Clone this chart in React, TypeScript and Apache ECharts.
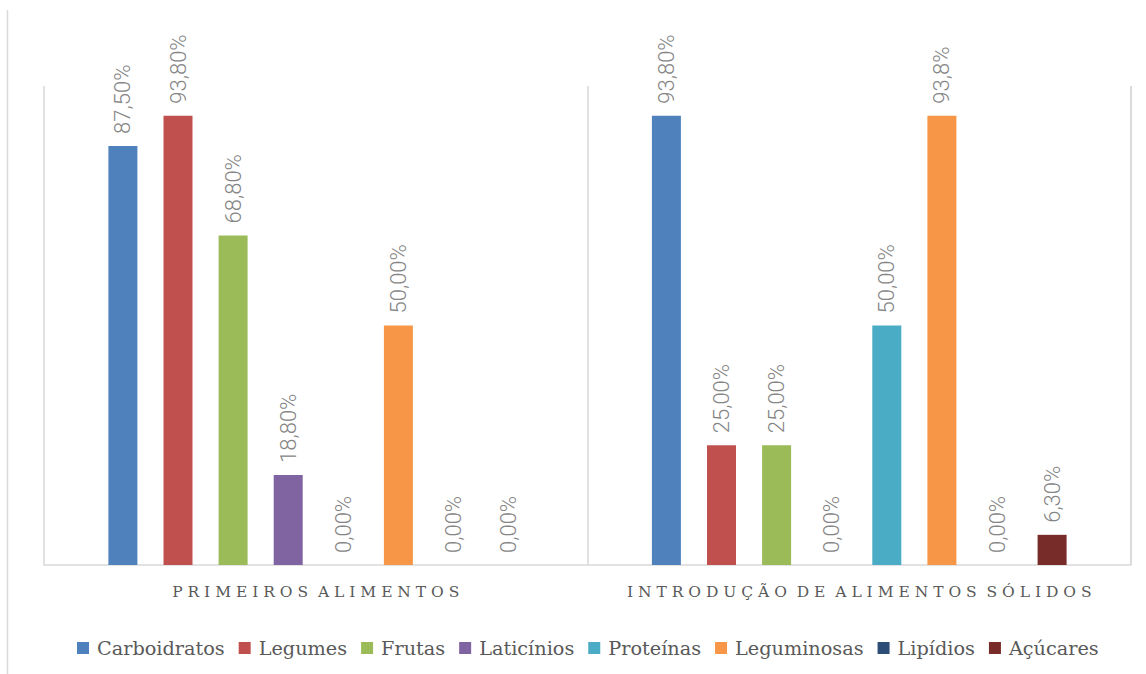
import React, { useEffect, useRef } from "react";
import * as echarts from "echarts";

const categories = [
  "P R I M E I R O S  A L I M E N T O S",
  "I N T R O D U Ç Ã O  D E  A L I M E N T O S  S Ó L I D O S",
];
const seriesNames = [
  "Carboidratos",
  "Legumes",
  "Frutas",
  "Laticínios",
  "Proteínas",
  "Leguminosas",
  "Lipídios",
  "Açúcares",
];
const primeirosValues = [87.5, 93.8, 68.8, 18.8, 0, 50, 0, 0];
const introducaoValues = [93.8, 25, 25, 0, 50, 93.8, 0, 6.3];
const primeirosLabels = ["87,50%", "93,80%", "68,80%", "18,80%", "0,00%", "50,00%", "0,00%", "0,00%"];
const introducaoLabels = ["93,80%", "25,00%", "25,00%", "0,00%", "50,00%", "93,8%", "0,00%", "6,30%"];
const colors = ["#4F81BD", "#C0504D", "#9BBB59", "#8064A2", "#4BACC6", "#F79646", "#2C4D75", "#772C2A"];

export default function App() {
  const ref = useRef<HTMLDivElement>(null);
  useEffect(() => {
    if (!ref.current) return;
    const chart = echarts.init(ref.current, null, { renderer: "svg" });
    const labelSets = [primeirosLabels, introducaoLabels];
    const series = seriesNames.map((name, i) => ({
      name,
      type: "bar",
      data: [primeirosValues[i], introducaoValues[i]],
      barWidth: 29,
      barGap: "90%",
      itemStyle: { color: colors[i] },
      label: {
        show: true,
        position: "top",
        rotate: 90,
        align: "left",
        verticalAlign: "middle",
        distance: 12,
        fontFamily: "Roboto",
        fontSize: 22,
        fontWeight: 300,
        color: "#858585",
        formatter: (p: any) => labelSets[p.dataIndex][i],
      },
    }));
    chart.setOption({
      animation: false,
      color: colors,
      grid: { left: 44, right: 15, top: 86, bottom: 109, containLabel: false },
      xAxis: {
        type: "category",
        data: categories,
        axisLine: { show: true, lineStyle: { color: "#d9d9d9", width: 1.5 } },
        axisTick: { show: false },
        splitLine: { show: true, interval: 0, lineStyle: { color: "#d9d9d9", width: 1.5 } },
        axisLabel: {
          interval: 0,
          hideOverlap: false,
          margin: 19,
          fontFamily: "DejaVu Serif",
          fontSize: 15.5,
          color: "#595959",
        },
      },
      yAxis: {
        type: "value",
        min: 0,
        max: 100,
        show: false,
        splitLine: { show: false },
      },
      legend: {
        top: 631,
        left: 72,
        itemWidth: 12,
        itemHeight: 12,
        itemGap: 14,
        icon: "rect",
        textStyle: {
          fontFamily: "DejaVu Serif",
          fontSize: 19.25,
          color: "#595959",
          lineHeight: 24,
          padding: [0, 0, 0, 3],
        },
      },
      graphic: [
        {
          type: "line",
          shape: { x1: 7.5, y1: 10, x2: 7.5, y2: 674 },
          style: { stroke: "#d9d9d9", lineWidth: 1.5 },
        },
        {
          type: "line",
          shape: { x1: 1131, y1: 86, x2: 1131, y2: 565 },
          style: { stroke: "#d9d9d9", lineWidth: 1.5 },
        },
      ],
      series,
    });
    return () => chart.dispose();
  }, []);
  return (
    <div
      ref={ref}
      style={{ position: "absolute", left: 0, top: 0, width: 1146, height: 674, background: "#fff" }}
    />
  );
}
